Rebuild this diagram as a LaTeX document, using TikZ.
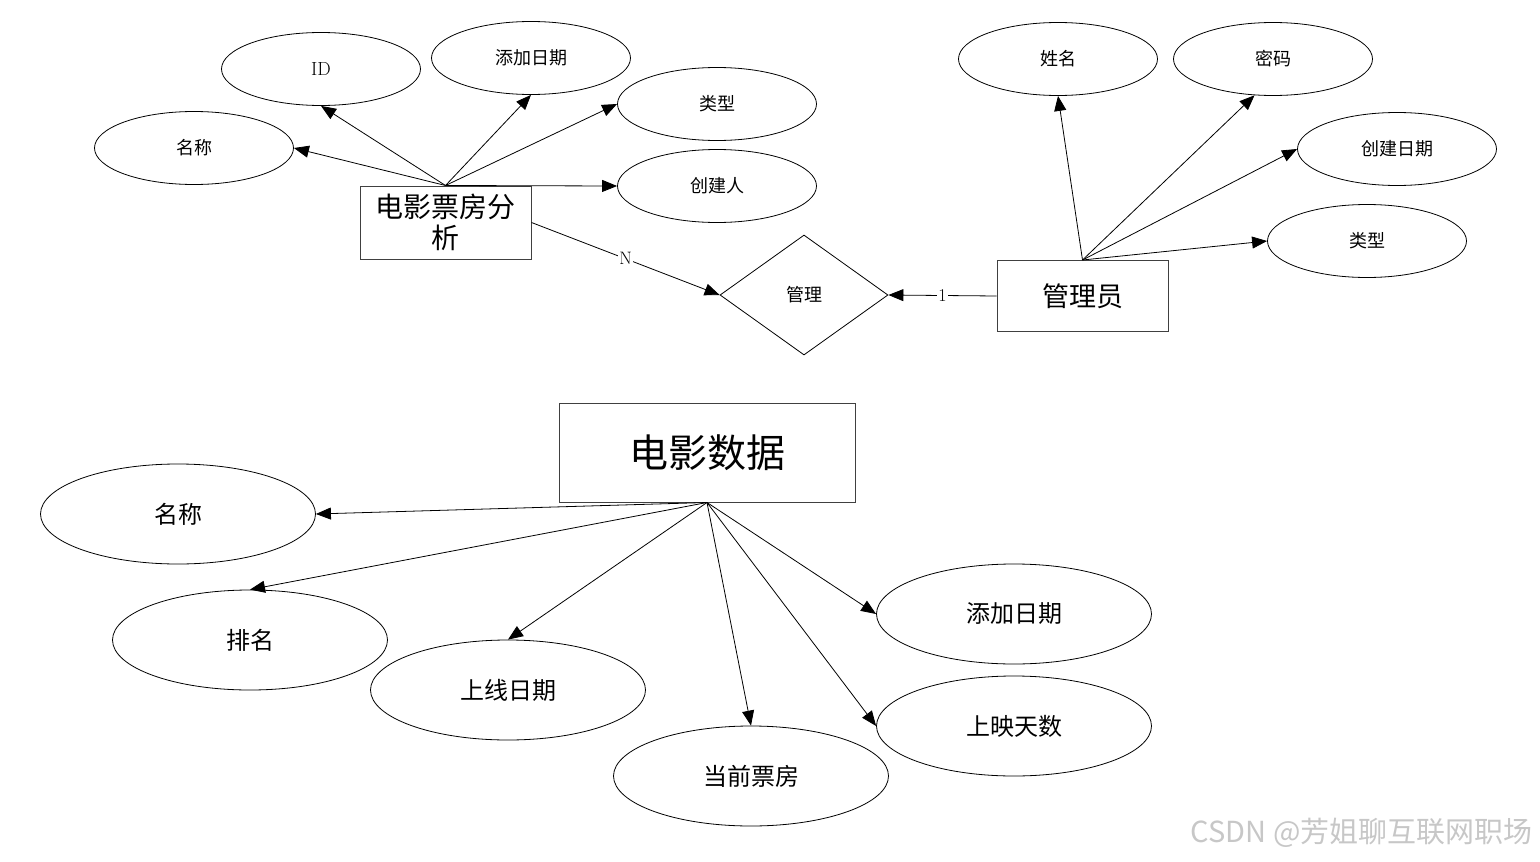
\documentclass[tikz,border=0pt]{standalone}
\usepackage{fontspec}
\newfontfamily\cjk{Noto Sans CJK SC}
\usetikzlibrary{shapes.geometric,arrows.meta}
\tikzset{
	attr/.style={draw, ellipse, line width=0.8pt, minimum width=199pt, minimum height=73pt,
		inner sep=0pt, font=\fontsize{18}{20}\selectfont\cjk},
	bigattr/.style={attr, minimum width=275pt, minimum height=100pt,
		font=\fontsize{24}{26}\selectfont\cjk},
	entity/.style={draw=black!75, line width=1pt, inner sep=0pt, align=center},
	rel/.style={draw, diamond, line width=0.8pt, minimum width=168pt, minimum height=120pt,
		aspect=1.4, inner sep=0pt, font=\fontsize{18}{20}\selectfont\cjk},
	conn/.style={-{Triangle[length=15pt,width=12pt]}, line width=0.8pt},
	card/.style={midway, fill=white, inner sep=1pt, font=\fontsize{18}{18}\selectfont},
}
\begin{document}
\begin{tikzpicture}[x=1pt, y=-1pt]
	\useasboundingbox (0,0) rectangle (1540,862);

	%entita analisi
	\node[entity, minimum width=171pt, minimum height=73pt,
		font=\fontsize{28}{31}\selectfont\cjk] (ana) at (445.5,222.5) {电影票房分\\析};
	\node[attr, font=\fontsize{19}{20}\selectfont] (anaid) at (321,69) {ID};
	\node[attr] (anadate) at (531,58) {添加日期};
	\node[attr] (anatype) at (717,104) {类型};
	\node[attr] (ananame) at (194,148) {名称};
	\node[attr] (anauser) at (717,186) {创建人};
	\foreach \t/\a in {ananame/east, anaid/south, anadate/south, anatype/west, anauser/west}
		\draw[conn] (ana.north) -- (\t.\a);

	%relazione
	\node[rel] (mgr) at (804,295) {管理};

	%entita amministratore
	\node[entity, minimum width=171pt, minimum height=71pt,
		font=\fontsize{27}{30}\selectfont\cjk] (adm) at (1082.5,296) {管理员};
	\node[attr] (admname) at (1058,59) {姓名};
	\node[attr] (admpwd) at (1273,59) {密码};
	\node[attr] (admdate) at (1397,149) {创建日期};
	\node[attr] (admtype) at (1367,241) {类型};
	\foreach \t/\a in {admname/south, admpwd/243, admdate/west, admtype/west}
		\draw[conn] (adm.north) -- (\t.\a);

	%cardinalita
	\draw[conn] (ana.east) -- (mgr.west) node[card] {N};
	\draw[conn] (adm.west) -- (mgr.east) node[card] {1};

	%entita dati
	\node[entity, minimum width=296pt, minimum height=99pt,
		font=\fontsize{39}{42}\selectfont\cjk] (dat) at (707,452.5) {电影数据};
	\node[bigattr] (datname) at (178,514) {名称};
	\node[bigattr] (datrank) at (250,640) {排名};
	\node[bigattr] (datonline) at (508,690) {上线日期};
	\node[bigattr] (datbox) at (751,776) {当前票房};
	\node[bigattr] (datdate) at (1014,614) {添加日期};
	\node[bigattr] (datdays) at (1014,726) {上映天数};
	\foreach \t/\a in {datname/east, datrank/north, datonline/north, datbox/north, datdate/west, datdays/west}
		\draw[conn] (dat.south) -- (\t.\a);

	%filigrana
	\node[anchor=east, text=black!22, font=\fontsize{29}{29}\selectfont\cjk] (mark) at (1536,833)
		{CSDN @芳姐聊互联网职场};
\end{tikzpicture}
\end{document}
